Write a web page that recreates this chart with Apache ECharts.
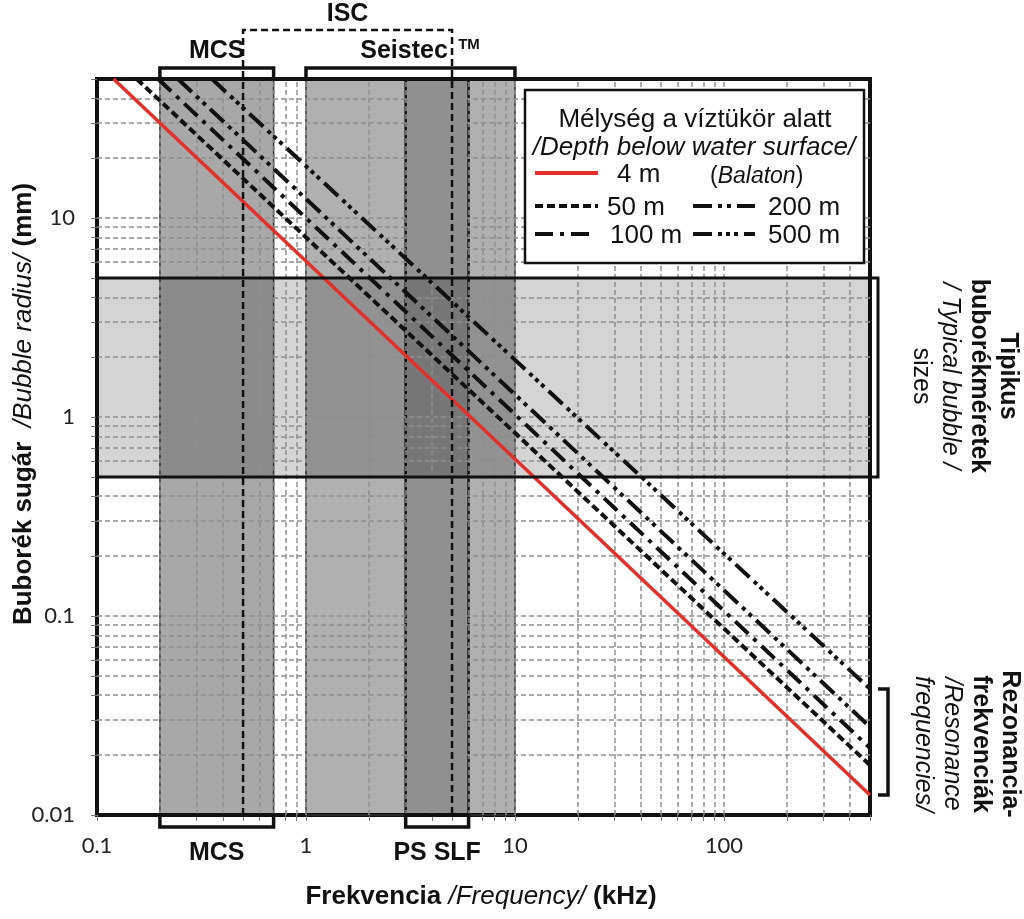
<!DOCTYPE html>
<html><head><meta charset="utf-8">
<script src="https://cdn.jsdelivr.net/npm/echarts@6/dist/echarts.min.js"></script>
<style>html,body{margin:0;padding:0;background:#fff}#c{width:1024px;height:919px}</style>
</head><body><div id="c"></div><script>
// ---- data ----
const xRange = [0.1, 500];          // kHz
const yRange = [0.01, 50];          // mm
const xTickLabels = [0.1, 1, 10, 100];
const yTickLabels = [0.01, 0.1, 1, 10];
const xGridValues = [0.2,0.3,0.4,0.5,0.6,0.7,0.8,0.9,1,2,3,4,5,6,7,8,9,10,20,30,40,50,60,70,80,90,100,200,300,400];
const yGridValues = [0.02,0.03,0.04,0.05,0.06,0.07,0.08,0.09,0.1,0.2,0.3,0.4,0.5,0.6,0.7,0.8,0.9,1,2,3,4,5,6,7,8,9,10,20,30,40];
const xTickValues = [0.1,0.2,0.3,0.4,0.5,0.6,0.7,0.8,0.9,1,2,3,4,5,6,7,8,9,10,20,30,40,50,60,70,80,90,100,200,300,400,500];
const yTickValues = [0.01,0.02,0.03,0.04,0.05,0.06,0.07,0.08,0.09,0.1,0.2,0.3,0.4,0.5,0.6,0.7,0.8,0.9,1,2,3,4,5,6,7,8,9,10,20,30,40,50];
const depthNames = ['4 m', '50 m', '100 m', '200 m', '500 m'];
const lineStartFreq = [0.12, 0.155, 0.196, 0.244, 0.355];   // kHz where radius = 50 mm
const lineEndRadius = [0.0126, 0.0178, 0.0217, 0.0277, 0.043]; // mm at 500 kHz
const mcsBand = [0.2, 0.7];
const seistecBand = [1, 10];
const psSlfBand = [3, 6];
const iscRange = [0.5, 5];
const bubbleSizeBand = [0.5, 5];

// ---- styles ----
const AR = '"Liberation Sans", Arial, sans-serif';
const dashPatterns = ['solid', [8,4], [18,7,4,7], [19,6,4,5,4,6], [19,6,4,4,4,4,4,6]];
const lineColors = ['#e2302a', '#111', '#111', '#111', '#111'];

const seriesLines = depthNames.map((n, i) => ({
  type: 'line', name: n, silent: true, symbol: 'none', showSymbol: false, z: 5,
  data: [[lineStartFreq[i], yRange[1]], [xRange[1], lineEndRadius[i]]],
  lineStyle: { color: lineColors[i], width: i === 0 ? 3.5 : 4, type: dashPatterns[i] }
}));

function fmt(v) {
  const l = Math.log10(v);
  if (Math.abs(l - Math.round(l)) > 1e-6) return '';
  return String(Number(v.toPrecision(3)));
}

const option = {
  animation: false,
  backgroundColor: '#fff',
  grid: { left: 97, right: 154, top: 79, bottom: 104, show: true, borderColor: '#111', borderWidth: 4, backgroundColor: 'transparent' },
  xAxis: {
    type: 'log', logBase: 10, min: xRange[0], max: xRange[1],
    axisLine: { show: false },
    axisTick: { show: true, customValues: xTickValues, length: 6, lineStyle: { color: '#777', width: 1 } },
    axisLabel: { customValues: xTickLabels, formatter: fmt, margin: 20, fontSize: 22, color: '#222', fontFamily: 'Lato, "Noto Sans", sans-serif' },
    splitLine: { show: false }
  },
  yAxis: {
    type: 'log', logBase: 10, min: yRange[0], max: yRange[1],
    axisLine: { show: false },
    axisTick: { show: true, customValues: yTickValues, length: 6, lineStyle: { color: '#777', width: 1 } },
    axisLabel: { customValues: yTickLabels, formatter: fmt, margin: 22, fontSize: 22, color: '#222', fontFamily: 'Lato, "Noto Sans", sans-serif' },
    splitLine: { show: false }
  },
  series: [
    { type: 'line', data: [], silent: true, z: 1,
      markArea: { silent: true, data: [
        [{ xAxis: mcsBand[0], itemStyle: { color: 'rgba(0,0,0,0.34)', borderColor: '#333', borderWidth: 1.5 } }, { xAxis: mcsBand[1] }],
        [{ xAxis: seistecBand[0], itemStyle: { color: 'rgba(0,0,0,0.31)', borderColor: '#333', borderWidth: 1.5 } }, { xAxis: seistecBand[1] }],
        [{ xAxis: psSlfBand[0], itemStyle: { color: 'rgba(0,0,0,0.18)', borderColor: '#111', borderWidth: 2.5 } }, { xAxis: psSlfBand[1] }],
        [{ yAxis: bubbleSizeBand[0], itemStyle: { color: 'rgba(0,0,0,0.17)', borderWidth: 0 } }, { yAxis: bubbleSizeBand[1] }]
      ] } },
    { type: 'line', data: [], silent: true, z: 2,
      markLine: { silent: true, symbol: ['none', 'none'], label: { show: false },
        lineStyle: { type: [5, 3], color: '#8e8e8e', width: 1.5 },
        emphasis: { disabled: true },
        data: xGridValues.map(v => ({ xAxis: v })).concat(yGridValues.map(v => ({ yAxis: v }))) } },
    ...seriesLines
  ]
};

const chart = echarts.init(document.getElementById('c'), null, { renderer: 'canvas', width: 1024, height: 919 });
chart.setOption(option);

function P(x, y) { return chart.convertToPixel({ gridIndex: 0 }, [x, y]); }
const [gx0, gy1] = P(xRange[0], yRange[0]);
const [gx1, gy0] = P(xRange[1], yRange[1]);
const X = v => P(v, yRange[0])[0];
const Y = v => P(xRange[0], v)[1];

const g = [];
function rect(x0, y0, x1, y1, st) {
  g.push({ type: 'rect', silent: true, z: 100, shape: { x: x0, y: y0, width: x1 - x0, height: y1 - y0 },
    style: Object.assign({ fill: 'none', stroke: '#111', lineWidth: 3 }, st || {}) });
}
function poly(points, st) {
  g.push({ type: 'polyline', silent: true, z: 100, shape: { points: points },
    style: Object.assign({ fill: 'none', stroke: '#111', lineWidth: 3 }, st || {}) });
}
function seg(x1, y1, x2, y2, st) {
  g.push({ type: 'line', silent: true, z: 120, shape: { x1, y1, x2, y2 },
    style: Object.assign({ stroke: '#111', lineWidth: 3.5 }, st || {}) });
}
function text(x, y, str, st, rot) {
  g.push({ type: 'text', silent: true, z: 120, x: x, y: y, rotation: rot || 0,
    style: Object.assign({ text: str, fill: '#111', align: 'center', verticalAlign: 'middle' }, st || {}) });
}
const B = 'bold 25px ' + AR;

// bubble-size band outline with right bracket
rect(gx0, Y(bubbleSizeBand[1]), gx1 + 8, Y(bubbleSizeBand[0]), { lineWidth: 3 });
// resonance frequency bracket
const yTop = P(xRange[1], Math.max(...lineEndRadius))[1];
const yBot = P(xRange[1], Math.min(...lineEndRadius))[1];
poly([[gx1 + 8, yTop], [gx1 + 18, yTop], [gx1 + 18, yBot], [gx1 + 8, yBot]], { lineWidth: 3.5 });
// top boxes
rect(X(mcsBand[0]), gy0 - 11, X(mcsBand[1]), gy0, { lineWidth: 3.5 });
rect(X(seistecBand[0]), gy0 - 11, X(seistecBand[1]), gy0, { lineWidth: 3.5 });
// bottom boxes
rect(X(mcsBand[0]), gy1, X(mcsBand[1]), gy1 + 12, { lineWidth: 3.5 });
rect(X(psSlfBand[0]), gy1, X(psSlfBand[1]), gy1 + 12, { lineWidth: 3.5 });
// ISC dashed bracket
poly([[X(iscRange[0]), gy1], [X(iscRange[0]), 30], [X(iscRange[1]), 30], [X(iscRange[1]), gy1]], { lineWidth: 2.5, lineDash: [7, 4] });

// top / bottom labels
text((X(iscRange[0]) + X(iscRange[1])) / 2, 14, 'ISC', { font: B });
text((X(mcsBand[0]) + X(mcsBand[1])) / 2, 51, 'MCS', { font: B });
text(404, 51, 'Seistec', { font: B });
text(469, 45, 'TM', { font: 'bold 15px ' + AR });
text((X(mcsBand[0]) + X(mcsBand[1])) / 2, 853, 'MCS', { font: B });
text((X(psSlfBand[0]) + X(psSlfBand[1])) / 2, 853, 'PS SLF', { font: B });

// axis titles
text(481, 897, '{b|Frekvencia }{i|/Frequency/ }{b|(kHz)}', {
  rich: { b: { font: 'bold 26px ' + AR, fill: '#111' }, i: { font: 'italic 26px ' + AR, fill: '#111' } } });
text(24, 404, '{b|Buborék sugár  }{i|/Bubble radius/ }{b|(mm)}', {
  rich: { b: { font: 'bold 26px ' + AR, fill: '#111' }, i: { font: 'italic 26px ' + AR, fill: '#111' } } }, Math.PI / 2);

// right-side labels
const rr = {
  b: { font: 'bold 25px ' + AR, fill: '#111', lineHeight: 29 },
  i: { font: 'italic 25px ' + AR, fill: '#111', lineHeight: 29 },
  r: { font: '25px ' + AR, fill: '#111', lineHeight: 29 }
};
text(964, 376, '{b|Tipikus}\n{b|buborékméretek}\n{i|/ Typical bubble /}\n{r|sizes}', { rich: rr }, -Math.PI / 2);
text(966, 744, '{b|Rezonancia-}\n{b|frekvenciák}\n{i|/Resonance}\n{i|frequencies/}', { rich: rr }, -Math.PI / 2);

// legend box
g.push({ type: 'rect', silent: true, z: 110, shape: { x: 525, y: 90, width: 339, height: 173 },
  style: { fill: '#fff', stroke: '#111', lineWidth: 2.5 } });
const LF = '26px ' + AR;
text(695, 120, 'Mélység a víztükör alatt', { font: LF });
text(694, 148, '/Depth below water surface/', { font: 'italic 26px ' + AR });
const legendPos = [
  { x1: 535, x2: 598, y: 173, tx: 617 },
  { x1: 535, x2: 598, y: 206, tx: 607 },
  { x1: 535, x2: 590, y: 234, tx: 610 },
  { x1: 693, x2: 755, y: 206, tx: 768 },
  { x1: 693, x2: 755, y: 234, tx: 768 }
];
depthNames.forEach((n, i) => {
  const p = legendPos[i];
  seg(p.x1, p.y, p.x2, p.y, { stroke: lineColors[i], lineWidth: i === 0 ? 4 : 4, lineDash: i === 0 ? null : dashPatterns[i] });
  text(p.tx, p.y + 2, n, { font: LF, align: 'left' });
});
text(710, 177, '{r|(}{i|Balaton}{r|)}', { align: 'left',
  rich: { r: { font: '23px ' + AR, fill: '#111' }, i: { font: 'italic 23px ' + AR, fill: '#111' } } });

chart.setOption({ graphic: g });
</script></body></html>
